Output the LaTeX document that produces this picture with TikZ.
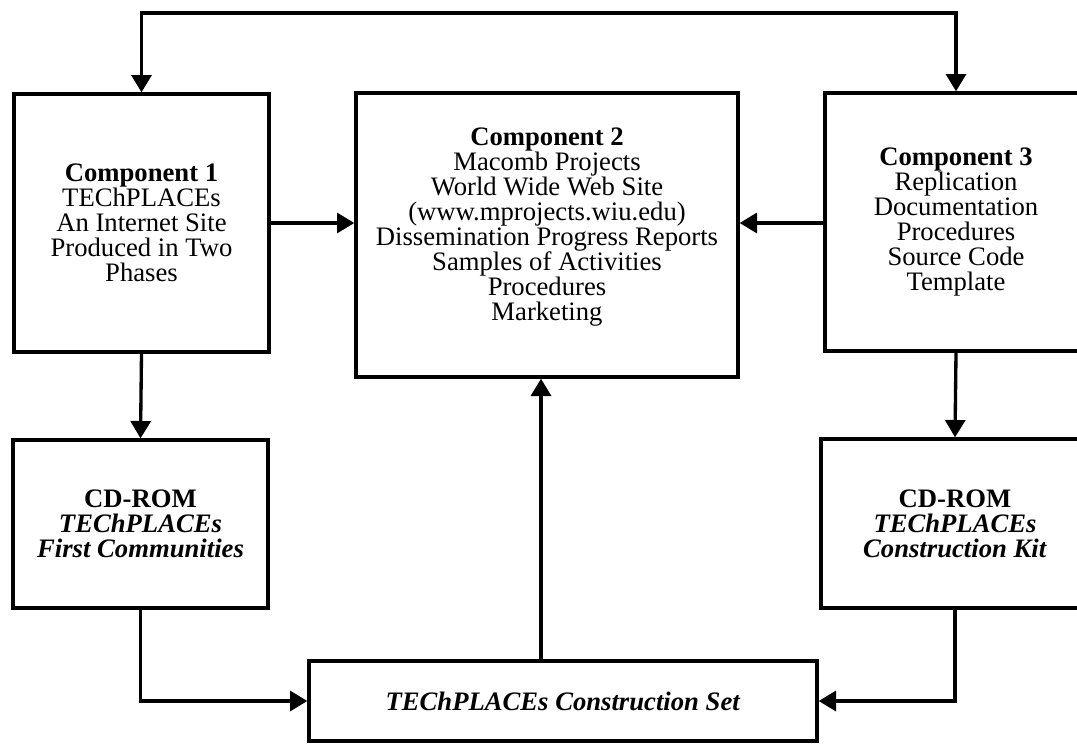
\documentclass[tikz,border=0pt]{standalone}
\usepackage{fontspec}
\setmainfont{Liberation Serif}
\usetikzlibrary{arrows.meta}
\begin{document}
\begin{tikzpicture}[x=0.75pt,y=-0.75pt,
  box/.style={draw, line width=2.5pt, inner sep=0pt, align=center,
              font=\fontsize{20}{18.8}\selectfont},
  txt/.style={inner sep=0pt, align=center, font=\fontsize{20}{18.8}\selectfont},
  conn/.style={line width=2.5pt, -{Triangle[length=13pt,width=15pt]}},
  both/.style={line width=2.5pt, {Triangle[length=13pt,width=15pt]}-{Triangle[length=13pt,width=15pt]}},
]
\useasboundingbox (0,0) rectangle (1077,743);
\clip (0,0) rectangle (1077,743);

\node[box, minimum width={255*0.75pt}, minimum height={258*0.75pt}] (c1) at (141.5,223)
  {\textbf{Component 1}\\TEChPLACEs\\An Internet Site\\Produced in Two\\Phases};
\node[box, minimum width={382*0.75pt}, minimum height={284*0.75pt}] (c2) at (547,235) {};
\node[txt] (c2text) at (547,227)
  {\textbf{Component 2}\\Macomb Projects\\World Wide Web Site\\(www.mprojects.wiu.edu)\\Dissemination Progress Reports\\Samples of Activities\\Procedures\\Marketing};
\node[box, minimum width={262*0.75pt}, minimum height={258*0.75pt}] (c3) at (956,222)
  {\textbf{Component 3}\\Replication\\Documentation\\Procedures\\Source Code\\Template};
\node[box, minimum width={255*0.75pt}, minimum height={168*0.75pt}] (cd1) at (140.5,524)
  {\textbf{CD-ROM}\\\textbf{\textit{TEChPLACEs}}\\\textbf{\textit{First Communities}}};
\node[box, minimum width={268*0.75pt}, minimum height={169*0.75pt}] (cd2) at (955,523.5)
  {\textbf{CD-ROM}\\\textbf{\textit{TEChPLACEs}}\\\textbf{\textit{Construction Kit}}};
\node[box, minimum width={508*0.75pt}, minimum height={80*0.75pt}] (bot) at (563,701)
  {\textbf{\textit{TEChPLACEs Construction Set}}};

\coordinate (top) at (0,13);
\draw[both] (c1.north) -- (c1.north |- top) -| (c3.north);
\draw[conn] (c1.east |- 0,223) -- (c2.west |- 0,223);
\draw[conn] (c3.west |- 0,223) -- (c2.east |- 0,223);
\draw[conn] (c1.south) -- (cd1.north);
\draw[conn] (c3.south) -- (cd2.north);
\draw[conn] (cd1.south) |- (bot.west);
\draw[conn] (cd2.south) |- (bot.east);
\draw[conn] (bot.north -| 541,0) -- (c2.south -| 541,0);
\end{tikzpicture}
\end{document}
